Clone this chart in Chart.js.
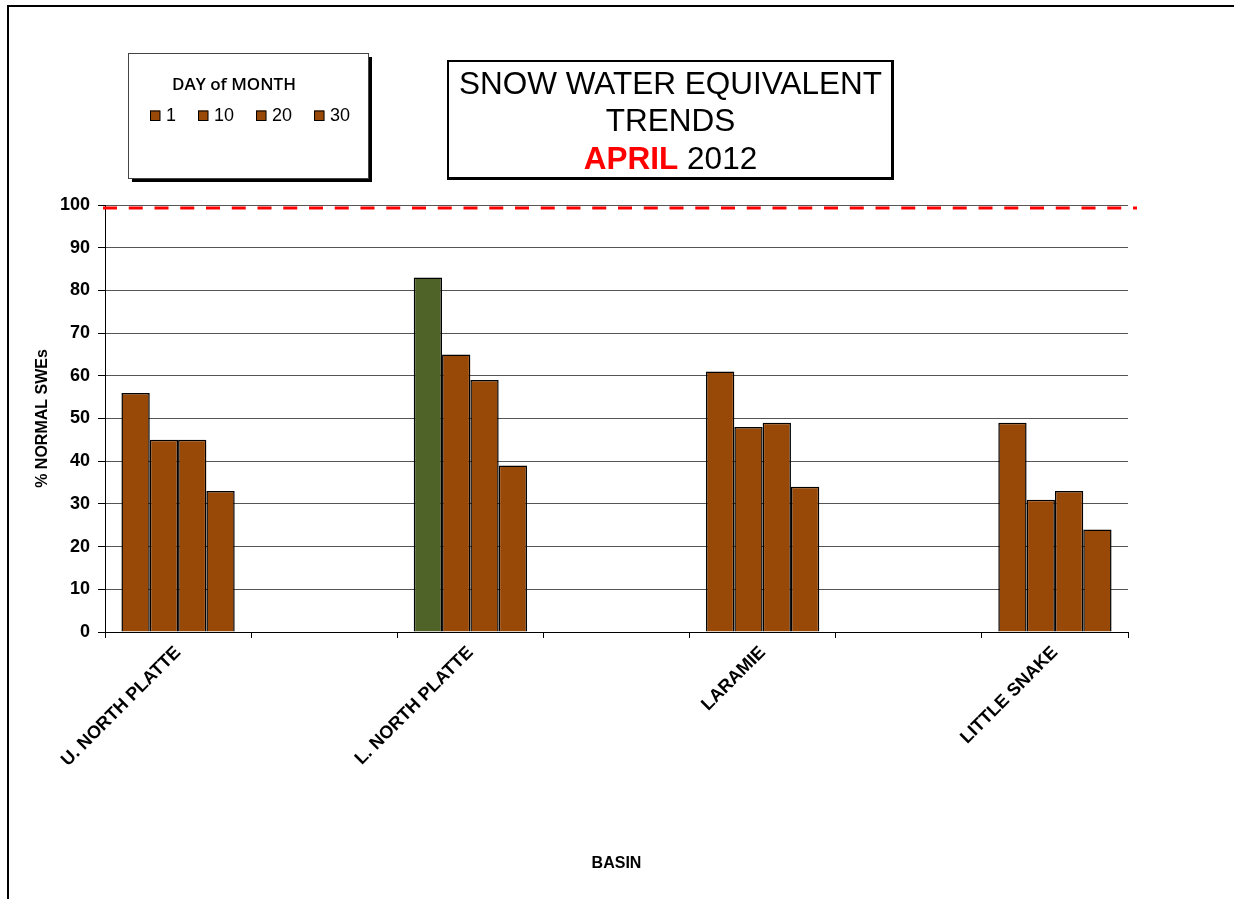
<!DOCTYPE html>
<html>
<head>
<meta charset="utf-8">
<title>Snow Water Equivalent Trends - April 2012</title>
<script src="https://cdn.jsdelivr.net/npm/chart.js@4.4.1/dist/chart.umd.min.js"></script>
<style>
  html, body { margin: 0; padding: 0; background: #fff; }
  #wrap { position: relative; width: 1234px; height: 899px; }
</style>
</head>
<body>
<div id="wrap"><canvas id="sweChart" width="1234" height="899"></canvas></div>
<script>
// basins, with empty categories as spacers between them
const basins = ['U. NORTH PLATTE', '', 'L. NORTH PLATTE', '', 'LARAMIE', '', 'LITTLE SNAKE'];
const days = ['1', '10', '20', '30'];
const day1 = [56, null, 83, null, 61, null, 49];
const day10 = [45, null, 65, null, 48, null, 31];
const day20 = [45, null, 59, null, 49, null, 33];
const day30 = [33, null, 39, null, 34, null, 24];
const yTicks = [0, 10, 20, 30, 40, 50, 60, 70, 80, 90, 100];
const normalLine = 99.3;
const titleLines = ['SNOW WATER EQUIVALENT', 'TRENDS'];
const titleMonth = 'APRIL';
const titleYear = '2012';

const BROWN = '#984807';
const GREEN = '#4F6228';
const day1Colors = [BROWN, BROWN, GREEN, BROWN, BROWN, BROWN, BROWN];
const FONT = '"Liberation Sans", Arial, sans-serif';

const decorations = {
  id: 'decorations',
  beforeDraw(chart) {
    const ctx = chart.ctx;
    ctx.save();
    ctx.fillStyle = '#fff';
    ctx.fillRect(0, 0, chart.width, chart.height);
    ctx.restore();
  },
  afterDatasetsDraw(chart) {
    // the 100% "normal" reference line
    const ctx = chart.ctx;
    const area = chart.chartArea;
    const y = chart.scales.y.getPixelForValue(normalLine);
    ctx.save();
    ctx.strokeStyle = '#FF0000';
    ctx.lineWidth = 3;
    ctx.setLineDash([14, 11.75]);
    ctx.beginPath();
    ctx.moveTo(area.left - 2, y);
    ctx.lineTo(area.right + 9, y);
    ctx.stroke();
    ctx.restore();
  },
  afterDraw(chart) {
    const ctx = chart.ctx;
    ctx.save();

    // outer frame
    ctx.strokeStyle = '#000';
    ctx.lineWidth = 2;
    ctx.strokeRect(8, 6, 1300, 1000);

    // legend box
    ctx.fillStyle = '#000';
    ctx.fillRect(132, 57, 240, 125);
    ctx.fillStyle = '#fff';
    ctx.fillRect(128, 53, 240, 125);
    ctx.strokeStyle = '#444';
    ctx.lineWidth = 1;
    ctx.strokeRect(128.5, 53.5, 240, 125);

    ctx.fillStyle = '#000';
    ctx.font = '600 17px "Open Sans", sans-serif';
    ctx.textAlign = 'center';
    ctx.textBaseline = 'middle';
    ctx.fillText('DAY of MONTH', 234, 85);

    ctx.font = '18px ' + FONT;
    ctx.textAlign = 'left';
    let x = 150;
    chart.data.datasets.forEach((ds, i) => {
      ctx.fillStyle = BROWN;
      ctx.fillRect(x, 110.5, 10, 10);
      ctx.strokeStyle = '#000';
      ctx.strokeRect(x + 0.5, 111, 9.5, 9.5);
      ctx.fillStyle = '#000';
      ctx.fillText(ds.label, x + 16, 116);
      x += 16 + ctx.measureText(ds.label).width + 22;
    });

    // title box
    ctx.fillStyle = '#000';
    ctx.fillRect(447, 60, 447, 120);
    ctx.fillStyle = '#fff';
    ctx.fillRect(449, 62, 442, 115);

    const cx = 670.5;
    ctx.textAlign = 'center';
    ctx.textBaseline = 'alphabetic';
    ctx.font = '31.5px ' + FONT;
    ctx.fillStyle = '#000';
    ctx.fillText(titleLines[0], cx, 94);
    ctx.fillText(titleLines[1], cx, 131);

    ctx.textAlign = 'left';
    ctx.font = 'bold 31.5px ' + FONT;
    const wMonth = ctx.measureText(titleMonth).width;
    ctx.font = '31.5px ' + FONT;
    const wYear = ctx.measureText(' ' + titleYear).width;
    const start = cx - (wMonth + wYear) / 2;
    ctx.font = 'bold 31.5px ' + FONT;
    ctx.fillStyle = '#FF0000';
    ctx.fillText(titleMonth, start, 169);
    ctx.font = '31.5px ' + FONT;
    ctx.fillStyle = '#000';
    ctx.fillText(' ' + titleYear, start + wMonth, 169);

    ctx.restore();
  }
};

const seriesValues = [day1, day10, day20, day30];

const chart = new Chart(document.getElementById('sweChart'), {
  type: 'bar',
  data: {
    labels: basins,
    datasets: seriesValues.map((vals, i) => ({
      label: days[i],
      data: vals,
      backgroundColor: i === 0 ? day1Colors : BROWN,
      borderColor: '#000',
      borderWidth: 1.5,
      barPercentage: 1,
      categoryPercentage: 0.775
    }))
  },
  options: {
    responsive: false,
    animation: false,
    layout: { padding: { left: 0, top: 205, right: 106, bottom: 0 } },
    plugins: {
      legend: { display: false },
      title: { display: false },
      tooltip: { enabled: false }
    },
    scales: {
      x: {
        afterFit: s => { s.height = 267; },
        grid: { offset: true, drawOnChartArea: false, drawTicks: true, tickLength: 6, color: '#000' },
        border: { display: true, color: '#000', width: 1 },
        ticks: {
          autoSkip: false,
          minRotation: 45,
          maxRotation: 45,
          padding: 4,
          color: '#000',
          font: { family: FONT, size: 18, weight: 'bold' }
        },
        title: {
          display: true,
          text: 'BASIN',
          color: '#000',
          font: { family: FONT, size: 16, weight: 'bold' },
          padding: { top: 0, bottom: 26 }
        }
      },
      y: {
        min: 0,
        max: 100,
        afterFit: s => { s.width = 105; },
        afterBuildTicks: s => { s.ticks = yTicks.map(v => ({ value: v })); },
        grid: { color: '#555', tickColor: '#000', tickLength: 7, lineWidth: 1 },
        border: { display: true, color: '#000', width: 1 },
        ticks: {
          padding: 8,
          color: '#000',
          font: { family: FONT, size: 18, weight: 'bold' }
        },
        title: {
          display: true,
          text: '% NORMAL SWEs',
          color: '#000',
          font: { family: FONT, size: 16, weight: 'bold' },
          padding: { top: 33, bottom: 0 }
        }
      }
    }
  },
  plugins: [decorations]
});
</script>
</body>
</html>
